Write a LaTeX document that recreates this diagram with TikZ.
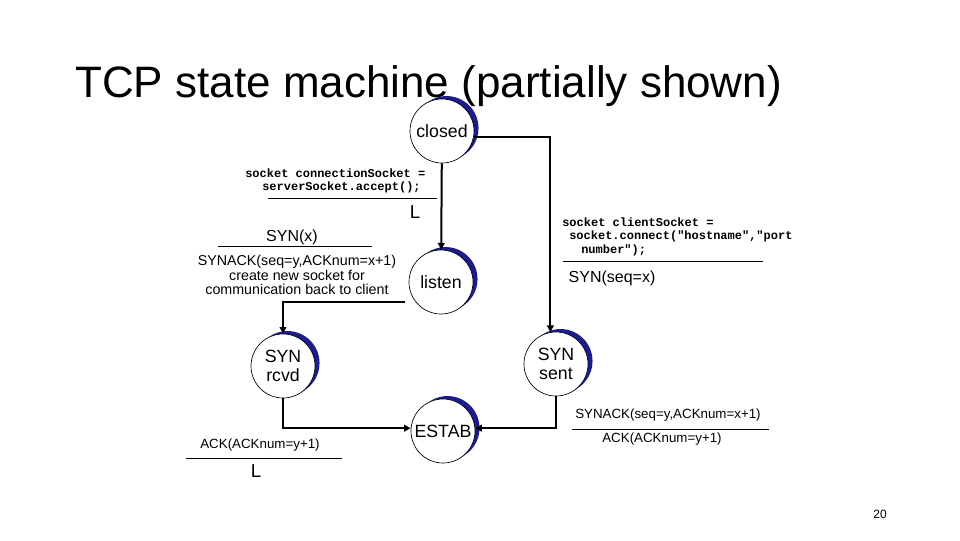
\documentclass[tikz,border=0pt]{standalone}
\usepackage{fontspec}
\setmainfont{Liberation Sans}
\setmonofont{Liberation Mono}
\usetikzlibrary{arrows.meta,shadows}
\definecolor{navyshade}{RGB}{28,28,140}
\tikzset{
  state/.style={circle, draw=black, line width=0.5pt, fill=white, minimum size=48pt,
    inner sep=0pt, align=center, font=\fontsize{13.3}{14}\selectfont,
    drop shadow={shadow xshift=3.4pt, shadow yshift=2.2pt, fill=navyshade, opacity=1}},
  conn/.style={line width=1.5pt, -{Triangle[length=5pt,width=5pt]}},
  rulel/.style={line width=0.75pt},
  lbl/.style={inner sep=0pt, align=center},
  code/.style={inner sep=0pt, anchor=west, font=\ttfamily\bfseries\fontsize{9}{10}\selectfont},
}
\begin{document}
\begin{tikzpicture}[x=0.75pt, y=-0.75pt]
\useasboundingbox (0,0) rectangle (960,540);
\fill[white] (0,0) rectangle (960,540);

% title
\node[anchor=base west, inner sep=0pt, font=\fontsize{33}{40}\selectfont] (title) at (75,97) {TCP state machine (partially shown)};

% states
\node[state] (closed) at (442,131) {closed};
\node[state] (listen) at (441,282) {listen};
\node[state] (synrcvd) at (283,366) {SYN\\rcvd};
\node[state] (synsent) at (556,364) {SYN\\sent};
\node[state] (estab) at (443,431) {ESTAB};

% connectors
\draw[conn] (closed) -- (listen);
\draw[conn] (closed.-10) -| (synsent.100);
\coordinate (lstart) at (405,302);
\draw[conn] (lstart) -| (synrcvd.north);
\draw[conn] (synrcvd.south) |- (estab.175);
\draw[conn] (synsent.south) |- (estab.5);

% labels: closed -> listen
\node[code] (c1a) at (245,173) {socket connectionSocket =};
\node[code] (c1b) at (262,187) {serverSocket.accept();};
\draw[rulel] (268,198) -- (437,198);
\node[lbl, font=\fontsize{14}{16}\selectfont] (l1) at (415,212) {L};

% labels: listen -> SYN rcvd
\node[lbl, font=\fontsize{12}{14}\selectfont] (synx) at (292,237) {SYN(x)};
\draw[rulel] (218,246) -- (372,246);
\node[lbl, font=\fontsize{10.7}{10.9}\selectfont] (synack1) at (297,275) {SYNACK(seq=y,ACKnum=x+1)\\create new socket for\\communication back to client};

% labels: closed -> SYN sent
\node[code] (c2a) at (562,222) {socket clientSocket =};
\node[code] (c2b) at (569,236) {socket.connect("hostname","port};
\node[code] (c2c) at (581,250) {number");};
\draw[rulel] (563,261) -- (763,261);
\node[lbl, font=\fontsize{12}{14}\selectfont] (synseq) at (612,278) {SYN(seq=x)};

% labels: SYN sent -> ESTAB
\node[lbl, font=\fontsize{10}{12}\selectfont] (synack2) at (668,415) {SYNACK(seq=y,ACKnum=x+1)};
\draw[rulel] (572,429) -- (769,429);
\node[lbl, font=\fontsize{10}{12}\selectfont] (ack2) at (662,439) {ACK(ACKnum=y+1)};

% labels: SYN rcvd -> ESTAB
\node[lbl, font=\fontsize{10}{12}\selectfont] (ack1) at (260,445) {ACK(ACKnum=y+1)};
\draw[rulel] (186,458) -- (342,458);
\node[lbl, font=\fontsize{14}{16}\selectfont] (l2) at (256,471) {L};

% page number
\node[lbl, font=\fontsize{9}{11}\selectfont] (pg) at (880,514) {20};
\end{tikzpicture}
\end{document}
